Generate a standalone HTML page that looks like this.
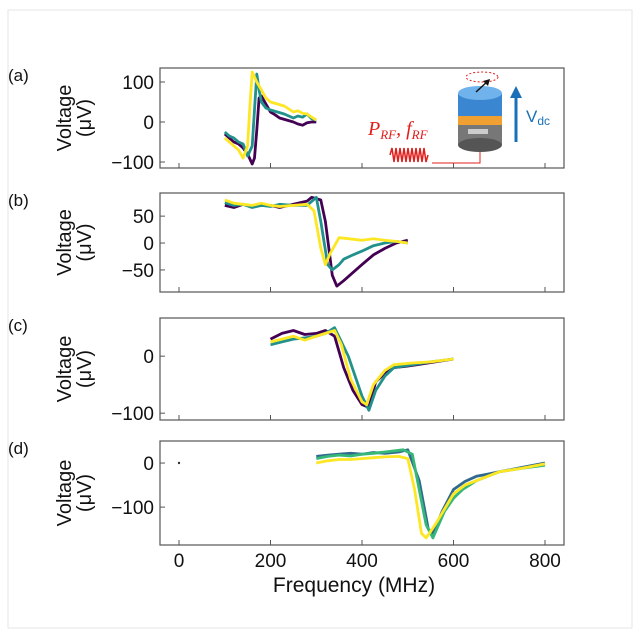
<!DOCTYPE html>
<html><head><meta charset="utf-8"><style>
body{margin:0;background:#fff;}
svg{display:block;font-family:"Liberation Sans","DejaVu Sans",sans-serif;}
</style></head><body>
<svg id="chart" width="640" height="635" viewBox="0 0 640 635">
<rect x="8" y="10" width="624" height="618" fill="none" stroke="#e6e6e6"/>
<g id="panels"></g>
<text x="354" y="592" font-size="21" text-anchor="middle" fill="#111">Frequency (MHz)</text>
<g>
  <text x="368" y="135" font-size="20" font-style="italic" font-family="Liberation Serif,serif" fill="#e0201c">P<tspan font-size="13" dy="4">RF</tspan><tspan dy="-4">, f</tspan><tspan font-size="13" dy="4">RF</tspan></text>
  <path d="M390 155 l2 -7 l2 14 l2 -14 l2 14 l2 -14 l2 14 l2 -14 l2 14 l2 -14 l2 14 l2 -14 l2 14 l2 -14 l2 14 l2 -14 l2 14 l2 -14 l2 14 l2 -7" fill="none" stroke="#e0201c" stroke-width="1.5"/>
  <path d="M432 163 H480 V148" fill="none" stroke="#e0201c" stroke-width="1"/>
  <path d="M476 150 L480 143 L484 150Z" fill="#e0201c"/>
  <rect x="458" y="125" width="44" height="20" fill="#777"/>
  <ellipse cx="480" cy="145" rx="22" ry="7" fill="#555"/>
  <rect x="468" y="129" width="20" height="5" fill="#ccc"/>
  <rect x="458" y="116" width="44" height="9" fill="#f0a030"/>
  <rect x="458" y="93" width="44" height="23" fill="#3a86d0"/>
  <ellipse cx="480" cy="93" rx="22" ry="7" fill="#6fb2ec"/>
  <ellipse cx="482" cy="77" rx="16" ry="5" fill="none" stroke="#e0201c" stroke-dasharray="2,2"/>
  <path d="M476 92 L488 81" stroke="#111" stroke-width="1.5"/>
  <path d="M490 79 L483 81 L488 86Z" fill="#111"/>
  <path d="M516 142 V95" stroke="#1a70b8" stroke-width="3"/>
  <path d="M510 98 L516 86 L522 98Z" fill="#1a70b8"/>
  <text x="526" y="122" font-size="17" fill="#1a70b8">V<tspan font-size="12" dy="3">dc</tspan></text>
</g>
</svg>
<script>
const xTicks=[0,200,400,600,800];
const panelLabels=["(a)","(b)","(c)","(d)"];
const panelYTicks=[[100,0,-100],[50,0,-50],[0,-100],[0,-100]];
const aF1=[100,110,120,130,140,150,160,165,170,175,180,190,200,210,220,235,250,260,270,280,290,300];
const aV1=[-30,-40,-50,-55,-65,-80,-105,-90,-20,60,65,45,25,18,10,5,0,-5,-8,-2,0,0];
const aF2=[100,110,120,130,140,150,160,165,170,175,180,190,200,215,230,250,260,270,280,290,300];
const aV2=[-25,-35,-40,-50,-55,-85,-60,30,120,80,50,35,30,25,20,10,15,12,20,8,5];
const aF3=[100,110,120,130,140,150,155,160,170,180,190,200,215,230,250,260,270,280,290,300];
const aV3=[-40,-50,-60,-70,-90,-60,40,125,100,80,60,50,45,40,25,28,22,20,12,5];
const bF1=[100,120,140,160,180,200,220,250,280,290,310,320,335,345,360,380,400,425,450,475,500];
const bV1=[70,66,72,68,70,70,66,72,78,85,80,40,-60,-80,-70,-55,-40,-22,-10,0,5];
const bF2=[100,120,140,160,180,200,220,250,280,300,310,325,335,350,360,380,400,425,450,475,500];
const bV2=[75,70,72,66,70,68,72,70,70,85,40,-40,-50,-40,-30,-22,-15,-5,0,3,0];
const bF3=[100,120,140,160,180,200,220,250,280,295,310,320,330,350,370,400,425,450,475,500];
const bV3=[80,74,72,70,74,70,68,70,72,60,-10,-40,-20,10,8,5,8,5,3,0];
const cF1=[200,225,250,275,300,320,340,360,380,400,415,430,450,470,495,520,560,600];
const cV1=[30,40,45,38,40,45,35,-20,-60,-85,-90,-45,-30,-20,-18,-15,-10,-5];
const cF2=[200,225,250,275,300,320,340,370,400,415,430,450,470,510,550,600];
const cV2=[20,25,30,32,35,40,50,0,-70,-95,-60,-35,-20,-15,-10,-5];
const cF3=[200,225,250,275,300,320,340,355,375,400,410,425,450,470,510,550,600];
const cV3=[25,30,35,28,35,40,45,20,-40,-80,-85,-50,-25,-15,-12,-10,-5];
const dF1=[300,325,350,375,400,425,450,480,500,525,545,555,575,600,625,650,675,700,750,800];
const dV1=[15,18,20,22,20,24,22,25,30,-40,-150,-160,-110,-60,-42,-30,-25,-20,-10,0];
const dF2=[300,325,350,375,400,425,450,490,510,540,555,580,600,620,650,700,750,800];
const dV2=[10,15,18,16,20,22,25,30,20,-140,-170,-110,-80,-60,-40,-20,-12,-5];
const dF3=[300,325,350,375,400,425,450,480,500,515,530,540,560,600,625,650,700,750,800];
const dV3=[0,5,8,8,10,12,14,15,10,-60,-160,-170,-140,-70,-50,-40,-20,-12,-2];
const panelSeries=[
 [[aF1,aV1],[aF2,aV2],[aF3,aV3]],
 [[bF1,bV1],[bF2,bV2],[bF3,bV3]],
 [[cF1,cV1],[cF2,cV2],[cF3,cV3]],
 [[dF1,dV1],[dF2,dV2],[dF3,dV3]]];
const colorsABC=["#440154","#21918c","#fde725"];
const colorsD=["#31688e","#35b779","#fde725"];
const boxes=[{t:68,b:168,ymax:135,ymin:-115},{t:193,b:292,ymax:93,ymin:-91},{t:318,b:420,ymax:67,ymin:-112},{t:441,b:545,ymax:50,ymin:-186}];
const L=160,R=564;
const xs=f=>179+f*(545-179)/800;
const NS="http://www.w3.org/2000/svg";
const g=document.getElementById('panels');
function mk(t,a,p){const e=document.createElementNS(NS,t);for(const k in a)e.setAttribute(k,a[k]);(p||g).appendChild(e);return e;}
boxes.forEach((B,i)=>{
 const ys=v=>B.t+(B.ymax-v)*(B.b-B.t)/(B.ymax-B.ymin);
 const pg=mk('g',{});
 
 
 const cols=i===3?colorsD:colorsABC;
 panelSeries[i].forEach((s,k)=>{
  const d=s[0].map((f,j)=>(j?'L':'M')+xs(f).toFixed(1)+' '+ys(s[1][j]).toFixed(1)).join(' ');
  const p=mk('path',{d:d,fill:'none',stroke:cols[k],'stroke-width':2.8,'stroke-linejoin':'round'},pg);
  
  
 });
 const r=mk('rect',{x:L,y:B.t,width:R-L,height:B.b-B.t,fill:'none',stroke:'#555','stroke-width':1.2},pg);
 
 
 xTicks.forEach(t=>{mk('line',{x1:xs(t),x2:xs(t),y1:B.b,y2:B.b-5,stroke:'#555'},pg);
  if(i===3){const tx=mk('text',{x:xs(t),y:B.b+22,'font-size':19,'text-anchor':'middle',fill:'#111'},pg);tx.textContent=t;
   
   }});
 panelYTicks[i].forEach(t=>{mk('line',{x1:L,x2:L+5,y1:ys(t),y2:ys(t),stroke:'#555'},pg);
  const tx=mk('text',{x:L-6,y:ys(t)+7,'font-size':19,'text-anchor':'end',fill:'#111'},pg);tx.textContent=(t<0?'\u2212'+(-t):t);
  
  });
 const lb=mk('text',{x:8,y:B.t+13,'font-size':17,fill:'#111'},pg);lb.textContent=panelLabels[i];
 
 
 const cy=(B.t+B.b)/2;
 const t1=mk('text',{x:0,y:0,'font-size':20,'text-anchor':'middle',fill:'#111',transform:`translate(71,${cy}) rotate(-90)`},pg);t1.textContent='Voltage';
 
 
 const t2=mk('text',{x:0,y:0,'font-size':20,'text-anchor':'middle',fill:'#111',transform:`translate(91,${cy}) rotate(-90)`},pg);t2.textContent='(\u03bcV)';
 
 
});
mk('circle',{cx:xs(0),cy:463,r:1.2,fill:'#333'});
</script>
</body></html>
